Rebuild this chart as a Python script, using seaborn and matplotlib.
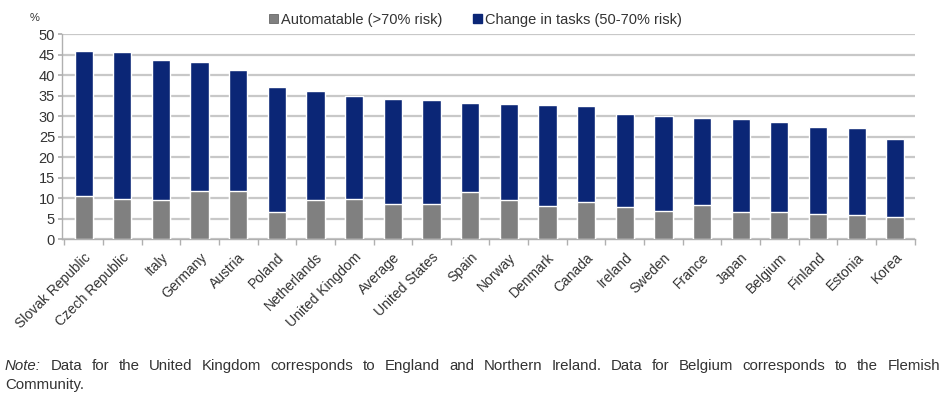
import numpy as np
import pandas as pd
import seaborn as sns
import matplotlib.pyplot as plt
from matplotlib.patches import Patch

countries = ["Slovak Republic", "Czech Republic", "Italy", "Germany", "Austria", "Poland",
             "Netherlands", "United Kingdom", "Average", "United States", "Spain", "Norway",
             "Denmark", "Canada", "Ireland", "Sweden", "France", "Japan", "Belgium",
             "Finland", "Estonia", "Korea"]
automatable = [10.4, 9.7, 9.6, 11.8, 11.8, 6.6, 9.6, 9.9, 8.6, 8.6, 11.6, 9.6,
               8.1, 9.0, 7.9, 6.9, 8.4, 6.6, 6.6, 6.2, 5.9, 5.4]
change_in_tasks = [35.5, 35.8, 34.0, 31.4, 29.4, 30.6, 26.4, 24.9, 25.6, 25.2, 21.7, 23.4,
                   24.7, 23.5, 22.6, 23.0, 21.2, 22.8, 22.0, 21.2, 21.2, 18.9]
series_names = ["Automatable (>70% risk)", "Change in tasks (50-70% risk)"]
y_ticks = [0, 5, 10, 15, 20, 25, 30, 35, 40, 45, 50]
note_text = ("Data for the United Kingdom corresponds to England and Northern Ireland. "
             "Data for Belgium corresponds to the Flemish")
note_tail = "Community."

sns.set_theme(style="white")
plt.rcParams["font.family"] = ["Liberation Sans", "DejaVu Sans"]

GRAY = "#808080"
NAVY = "#0b2676"
TXT = "#333333"

df = pd.DataFrame({"country": countries,
                   "automatable": automatable,
                   "change": change_in_tasks})
df["total"] = df["automatable"] + df["change"]

fig = plt.figure(figsize=(9.43, 3.94), dpi=100)
ax = fig.add_axes([0.0657, 0.393, 0.9043, 0.5207])

# stacked: full height in navy, automatable share in gray over it
sns.barplot(data=df, x="country", y="total", color=NAVY, width=0.47,
            saturation=1, ax=ax, zorder=3)
sns.barplot(data=df, x="country", y="automatable", color=GRAY, width=0.47,
            saturation=1, ax=ax, zorder=4)

ax.set_ylim(0, 50)
ax.set_xlim(-0.56, len(countries) - 0.5)
ax.set_yticks(y_ticks)
ax.set_yticklabels([str(v) for v in y_ticks], fontsize=10.5, color=TXT)
ax.yaxis.grid(True, color="#c8c8c8", linewidth=1.6, zorder=0)
ax.set_axisbelow(True)
ax.set_xlabel("")
ax.set_ylabel("")

for s in ["top", "right"]:
    ax.spines[s].set_visible(False)
for s in ["left", "bottom"]:
    ax.spines[s].set_color("#b0b0b0")
    ax.spines[s].set_linewidth(1.0)

ax.tick_params(axis="y", which="major", left=True, length=3, color="#b0b0b0", pad=2)
ax.tick_params(axis="x", which="major", bottom=False, pad=2)
ax.set_xticks(np.arange(-0.5, len(countries), 1.0), minor=True)
ax.tick_params(axis="x", which="minor", bottom=True, length=4, color="#b0b0b0")

ax.set_xticks(range(len(countries)))
ax.set_xticklabels(countries, rotation=45, ha="right", rotation_mode="anchor",
                   fontsize=10, color=TXT)

fig.text(0.031, 0.955, "%", fontsize=8, color=TXT, ha="left", va="center")

handles = [Patch(facecolor=GRAY, edgecolor="#555555", linewidth=0.5),
           Patch(facecolor=NAVY, edgecolor=NAVY)]
fig.legend(handles, series_names, loc="center", bbox_to_anchor=(0.504, 0.95), ncol=2,
           frameon=False, fontsize=10.5, handlelength=0.6, handleheight=0.6,
           handletextpad=0.2, columnspacing=2.1, labelcolor=TXT)

# justified footnote across the full width
fig.canvas.draw()
renderer = fig.canvas.get_renderer()
W = fig.get_figwidth() * fig.dpi
NOTE_FS = 10.8
x0, x1 = 5.0, 940.0
y_line1 = 1 - 366 / 394
y_line2 = 1 - 385 / 394
words = [("Note:", "italic")] + [(w, "normal") for w in note_text.split()]
widths = []
for w, st in words:
    t = fig.text(0, 0, w, fontsize=NOTE_FS, style=st)
    widths.append(t.get_window_extent(renderer).width)
    t.remove()
gap = ((x1 - x0) - sum(widths)) / (len(words) - 1)
x = x0
for (w, st), wd in zip(words, widths):
    fig.text(x / W, y_line1, w, fontsize=NOTE_FS, style=st, color=TXT, ha="left", va="center")
    x += wd + gap
fig.text(x0 / W, y_line2, note_tail, fontsize=NOTE_FS, color=TXT, ha="left", va="center")

fig.savefig("out.png", dpi=100)
